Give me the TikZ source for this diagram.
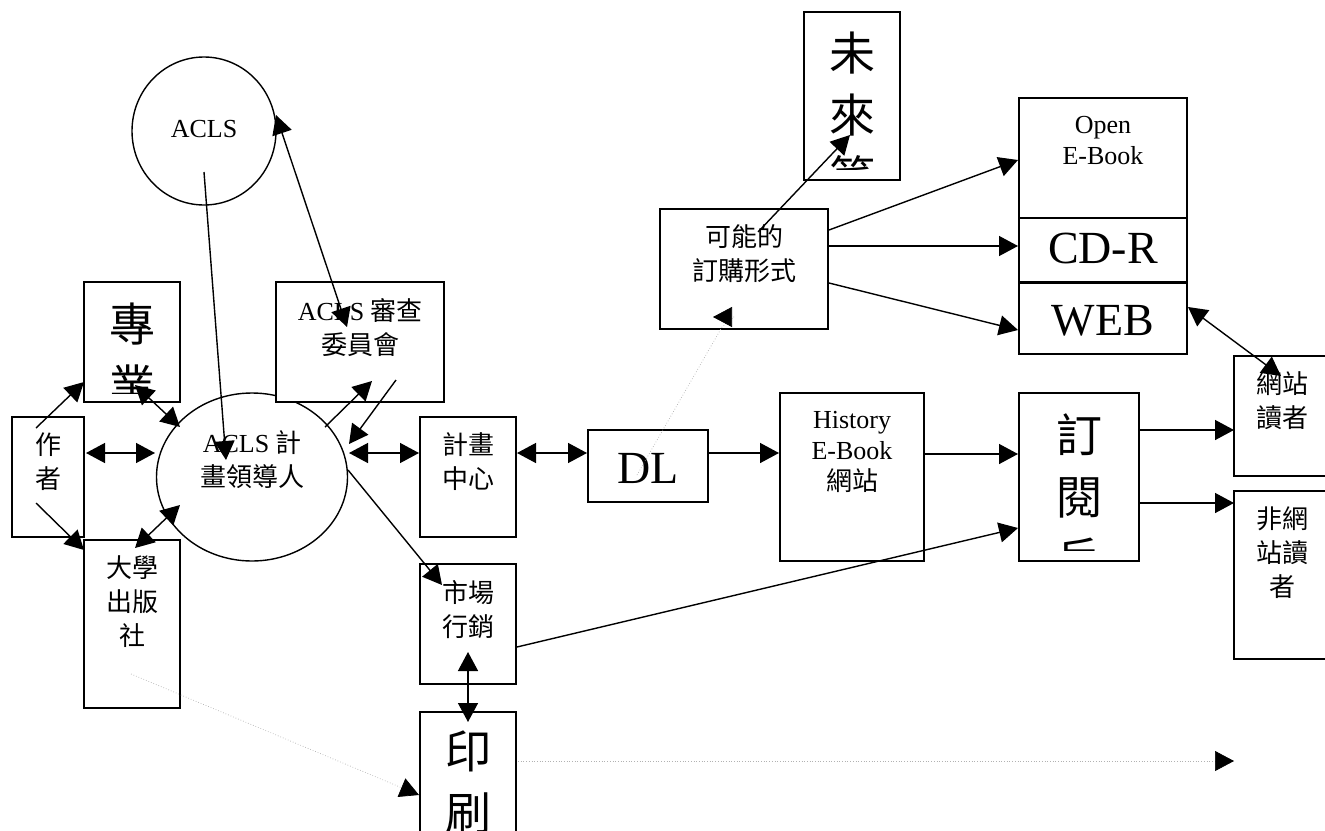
\documentclass[tikz,border=0pt]{standalone}
\usepackage{fontspec}
\setmainfont{Liberation Serif}
\newfontfamily\cjk{Noto Sans CJK TC}
\usetikzlibrary{arrows.meta,shapes.geometric}
\newcommand\txtS{\fontsize{26}{34}\selectfont}
\newcommand\txtL{\fontsize{46}{62}\selectfont}
\newcommand\txtH{\fontsize{26}{31}\selectfont}

\begin{document}
\begin{tikzpicture}[
  x=1pt, y=-1pt,
  line width=1.4pt,
  >={Triangle[length=19pt,width=20pt]},
  box/.style={draw, fill=white, inner sep=0pt},
  lbl/.style={anchor=north, align=center, inner sep=0pt, font=\txtS\cjk},
  dots/.style={draw=gray!60, line width=0.7pt, dotted, -{Triangle[length=19pt,width=20pt,color=black]}}
  ]

\useasboundingbox (0,0) rectangle (1325,830);

\node[box, ellipse, minimum width=144pt, minimum height=148pt] (acls) at (204,131) {};
\node[lbl, font=\txtS] (aclstxt) at ([shift={(0,63)}]acls.north) {ACLS};
\node[box, ellipse, minimum width=191pt, minimum height=168pt] (leader) at (252,477) {};
\node[lbl] (leadertxt) at ([shift={(0,38)}]leader.north) {{\rmfamily ACLS} 計\\畫領導人};

\node[box, minimum width=72pt, minimum height=120pt] (author) at (48,477) {};
\node[lbl] (authortxt) at ([shift={(0,16)}]author.north) {作\\者};
\node[box, minimum width=96pt, minimum height=120pt] (zhuan) at (132,342) {};
\begin{scope}
\clip (zhuan.north west) rectangle ([shift={(0,-9)}]zhuan.south east);
\node[lbl, font=\txtL\cjk] (zhuantxt) at ([shift={(0,21)}]zhuan.north) {專\\業};
\end{scope}
\node[box, minimum width=96pt, minimum height=168pt] (daxue) at (132,624) {};
\node[lbl] (daxuetxt) at ([shift={(0,16)}]daxue.north) {大學\\出版\\社};
\node[box, minimum width=168pt, minimum height=120pt] (review) at (360,342) {};
\node[lbl] (reviewtxt) at ([shift={(0,17)}]review.north) {{\rmfamily ACLS} 審查\\委員會};
\node[box, minimum width=96pt, minimum height=120pt] (center) at (468,477) {};
\node[lbl] (centertxt) at ([shift={(0,16)}]center.north) {計畫\\中心};
\node[box, minimum width=96pt, minimum height=120pt] (market) at (468,624) {};
\node[lbl] (markettxt) at ([shift={(0,16)}]market.north) {市場\\行銷};
\node[box, minimum width=96pt, minimum height=120pt] (print) at (468,772) {};
\node[lbl, font=\txtL\cjk] (printtxt) at ([shift={(0,19)}]print.north) {印\\刷};
\node[box, minimum width=120pt, minimum height=72pt] (dl) at (648,466) {};
\node[lbl, font=\txtL] (dltxt) at ([shift={(0,23)}]dl.north) {DL};
\node[box, minimum width=144pt, minimum height=168pt] (history) at (852,477) {};
\node[lbl, font=\txtH] (historytxt) at ([shift={(0,18)}]history.north) {History\\E-Book\\{\cjk 網站}};
\node[box, minimum width=120pt, minimum height=168pt] (subscribe) at (1079,477) {};
\begin{scope}
\clip (subscribe.north west) rectangle ([shift={(0,-11)}]subscribe.south east);
\node[lbl, font=\txtL\cjk] (subscribetxt) at ([shift={(0,21)}]subscribe.north) {訂\\閱\\戶};
\end{scope}
\node[box, minimum width=96pt, minimum height=168pt] (future) at (852,96) {};
\begin{scope}
\clip (future.north west) rectangle ([shift={(0,-11)}]future.south east);
\node[lbl, font=\txtL\cjk] (futuretxt) at ([shift={(0,20)}]future.north) {未\\來\\篇};
\end{scope}
\node[box, minimum width=168pt, minimum height=120pt] (forms) at (744,269) {};
\node[lbl] (formstxt) at ([shift={(0,16)}]forms.north) {可能的\\訂購形式};
\node[box, minimum width=168pt, minimum height=120pt] (openeb) at (1103,158) {};
\node[lbl, font=\txtH] (openebtxt) at ([shift={(0,18)}]openeb.north) {Open\\E-Book};
\node[box, minimum width=168pt, minimum height=64pt] (cdr) at (1103,250) {};
\node[lbl, font=\txtL] (cdrtxt) at ([shift={(0,15)}]cdr.north) {CD-R};
\node[box, minimum width=168pt, minimum height=71pt] (web) at (1103,318.5) {};
\node[lbl, font=\txtL] (webtxt) at ([shift={(0,22)}]web.north) {WEB};
\node[box, minimum width=96pt, minimum height=120pt] (webreader) at (1282,416) {};
\node[lbl] (webreadertxt) at ([shift={(0,16)}]webreader.north) {網站\\讀者};
\node[box, minimum width=96pt, minimum height=168pt] (nonweb) at (1282,575) {};
\node[lbl] (nonwebtxt) at ([shift={(0,16)}]nonweb.north) {非網\\站讀\\者};

\coordinate (offpage) at (1234,761);

\draw[->] ([shift={(-12,-49)}]author.center) -- ([shift={(-48,40)}]zhuan.center);
\draw[->] ([shift={(-12,26)}]author.center) -- ([shift={(-48,-74)}]daxue.center);
\draw[<->] ([shift={(38,-24)}]author.center) -- ([shift={(-97,-24)}]leader.center);
\draw[<->] ([shift={(3,43)}]zhuan.center) -- ([shift={(-72,-50)}]leader.center);
\draw[<->] ([shift={(3,-76)}]daxue.center) -- ([shift={(-72,28)}]leader.center);
\draw[->] ([shift={(0,41)}]acls.center) -- ([shift={(-26,-17)}]leader.center);
\draw[<->] ([shift={(72,-16)}]acls.center) -- ([shift={(-13,-15)}]review.center);
\draw[->] ([shift={(73,-50)}]leader.center) -- ([shift={(12,39)}]review.center);
\draw[->] ([shift={(36,38)}]review.center) -- ([shift={(97,-33)}]leader.center);
\draw[<->] ([shift={(97,-24)}]leader.center) -- ([shift={(-49,-24)}]center.center);
\draw[->] ([shift={(96,-7)}]leader.center) -- ([shift={(-26,-39)}]market.center);
\draw[<->] ([shift={(49,-24)}]center.center) -- ([shift={(-61,-13)}]dl.center);
\draw[->] ([shift={(61,-13)}]dl.center) -- ([shift={(-73,-24)}]history.center);
\draw[->] ([shift={(73,-23)}]history.center) -- ([shift={(-61,-23)}]subscribe.center);
\draw[->] ([shift={(49,23)}]market.center) -- ([shift={(-61,51)}]subscribe.center);
\draw[<->] ([shift={(0,28)}]market.center) -- ([shift={(0,-50)}]print.center);
\draw[dots] ([shift={(-1,50)}]daxue.center) -- ([shift={(-49,23)}]print.center);
\draw[dots] ([shift={(50,-11)}]print.center) -- (offpage);
\draw[dots] ([shift={(-11,9)}]dl.center) -- ([shift={(-22,58)}]forms.center) -- ([shift={(-10,48)}]forms.center) -- ([shift={(-31,48)}]forms.center);
\draw[->] ([shift={(14,-37)}]forms.center) -- ([shift={(-2,39)}]future.center);
\draw[->] ([shift={(85,-39)}]forms.center) -- ([shift={(-85,2)}]openeb.center);
\draw[->] ([shift={(85,-23)}]forms.center) -- ([shift={(-85,-4)}]cdr.center);
\draw[->] ([shift={(85,14)}]forms.center) -- ([shift={(-85,11.5)}]web.center);
\draw[<->] ([shift={(85,-11.5)}]web.center) -- ([shift={(-1,-40)}]webreader.center);
\draw[->] ([shift={(61,-47)}]subscribe.center) -- ([shift={(-48,14)}]webreader.center);
\draw[->] ([shift={(61,26)}]subscribe.center) -- ([shift={(-48,-72)}]nonweb.center);

\end{tikzpicture}
\end{document}
